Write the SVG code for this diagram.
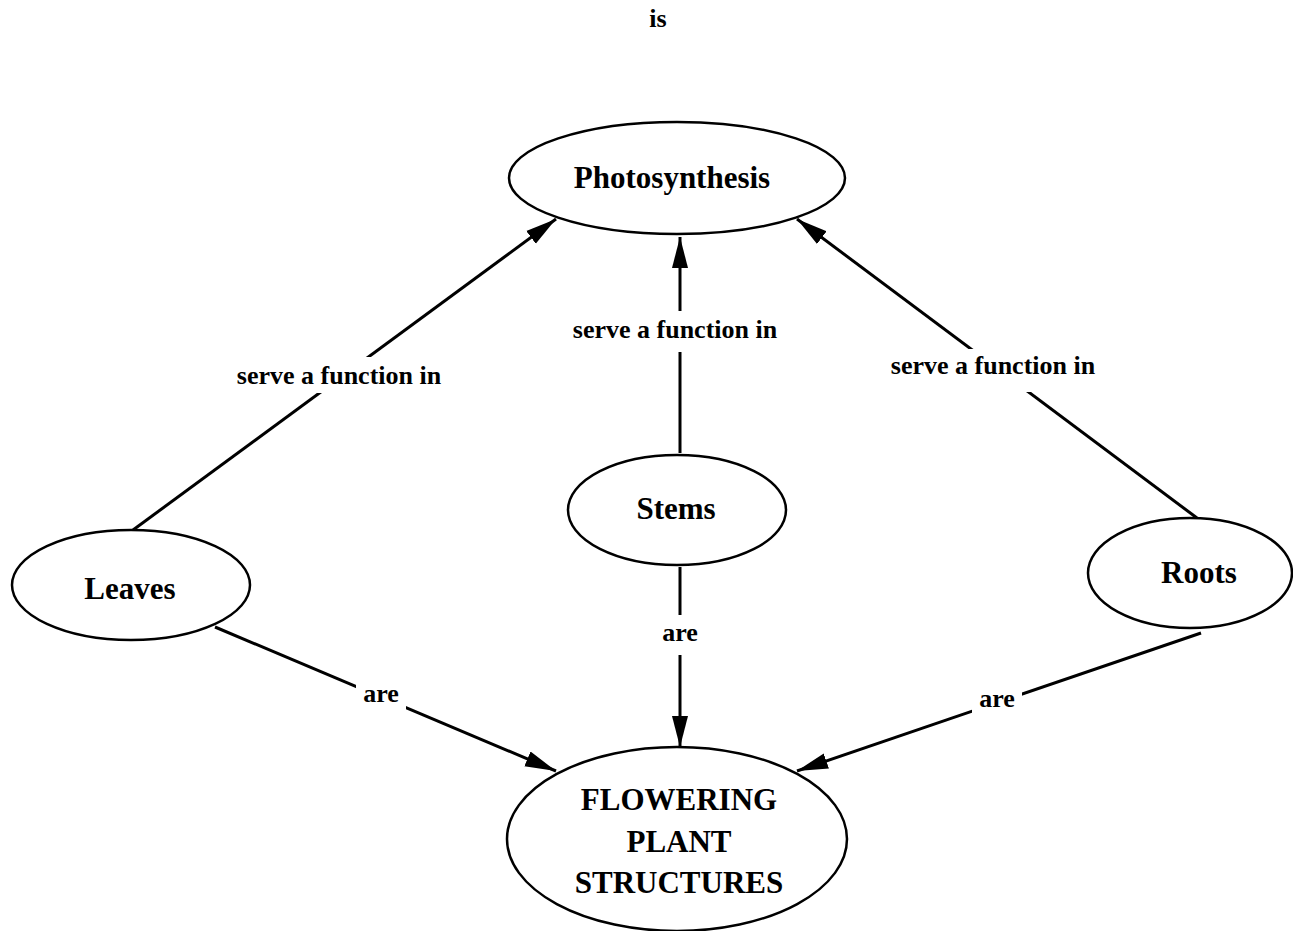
<svg xmlns="http://www.w3.org/2000/svg" width="1293" height="931" viewBox="0 0 1293 931">
<style>
.node ellipse{fill:#fff;stroke:#000;stroke-width:2.5}
.nt{font-family:"Liberation Serif","Times New Roman",serif;font-weight:bold;font-size:31px;text-anchor:middle;fill:#000}
.lt{font-family:"Liberation Serif","Times New Roman",serif;font-weight:bold;font-size:26px;text-anchor:middle;fill:#000}
.edge line{stroke:#000;stroke-width:3}
.bg{fill:#fff}
</style>
<defs>
<marker id="ah" markerUnits="userSpaceOnUse" markerWidth="32" markerHeight="18" refX="31" refY="9" orient="auto">
<path d="M0,1 L31,9 L0,17 z" fill="#000"/>
</marker>
</defs>
<rect width="1293" height="931" fill="#fff"/>
<text class="lt" x="658" y="27">is</text>
<g id="connectors" class="edge">
<line x1="133" y1="530" x2="556" y2="219" marker-end="url(#ah)"/>
<line x1="680" y1="453" x2="680" y2="237" marker-end="url(#ah)"/>
<line x1="1197" y1="518" x2="797" y2="219" marker-end="url(#ah)"/>
<line x1="215" y1="627" x2="556" y2="771" marker-end="url(#ah)"/>
<line x1="680" y1="567" x2="680" y2="747" marker-end="url(#ah)"/>
<line x1="1201" y1="633" x2="797" y2="771" marker-end="url(#ah)"/>
<rect class="bg" x="228" y="357" width="222" height="36"/>
<text class="lt" x="339" y="384">serve a function in</text>
<rect class="bg" x="564" y="311" width="222" height="41"/>
<text class="lt" x="675" y="338">serve a function in</text>
<rect class="bg" x="882" y="349" width="222" height="43"/>
<text class="lt" x="993" y="374">serve a function in</text>
<rect class="bg" x="356" y="678" width="50" height="32"/>
<text class="lt" x="381" y="702">are</text>
<rect class="bg" x="655" y="615" width="50" height="40"/>
<text class="lt" x="680" y="641">are</text>
<rect class="bg" x="972" y="683" width="50" height="32"/>
<text class="lt" x="997" y="707">are</text>
</g>
<g id="photosynthesis" class="node">
<ellipse cx="677" cy="178" rx="168" ry="56"/>
<text class="nt" x="672" y="188">Photosynthesis</text>
</g>
<g id="leaves" class="node">
<ellipse cx="131" cy="585" rx="119" ry="55"/>
<text class="nt" x="130" y="599">Leaves</text>
</g>
<g id="stems" class="node">
<ellipse cx="677" cy="510" rx="109" ry="55"/>
<text class="nt" x="676" y="519">Stems</text>
</g>
<g id="roots" class="node">
<ellipse cx="1190" cy="573" rx="102" ry="55"/>
<text class="nt" x="1199" y="583">Roots</text>
</g>
<g id="flowering" class="node">
<ellipse cx="677" cy="839" rx="170" ry="92"/>
<text class="nt" x="679" y="810">FLOWERING</text>
<text class="nt" x="679" y="852">PLANT</text>
<text class="nt" x="679" y="893">STRUCTURES</text>
</g>
</svg>
